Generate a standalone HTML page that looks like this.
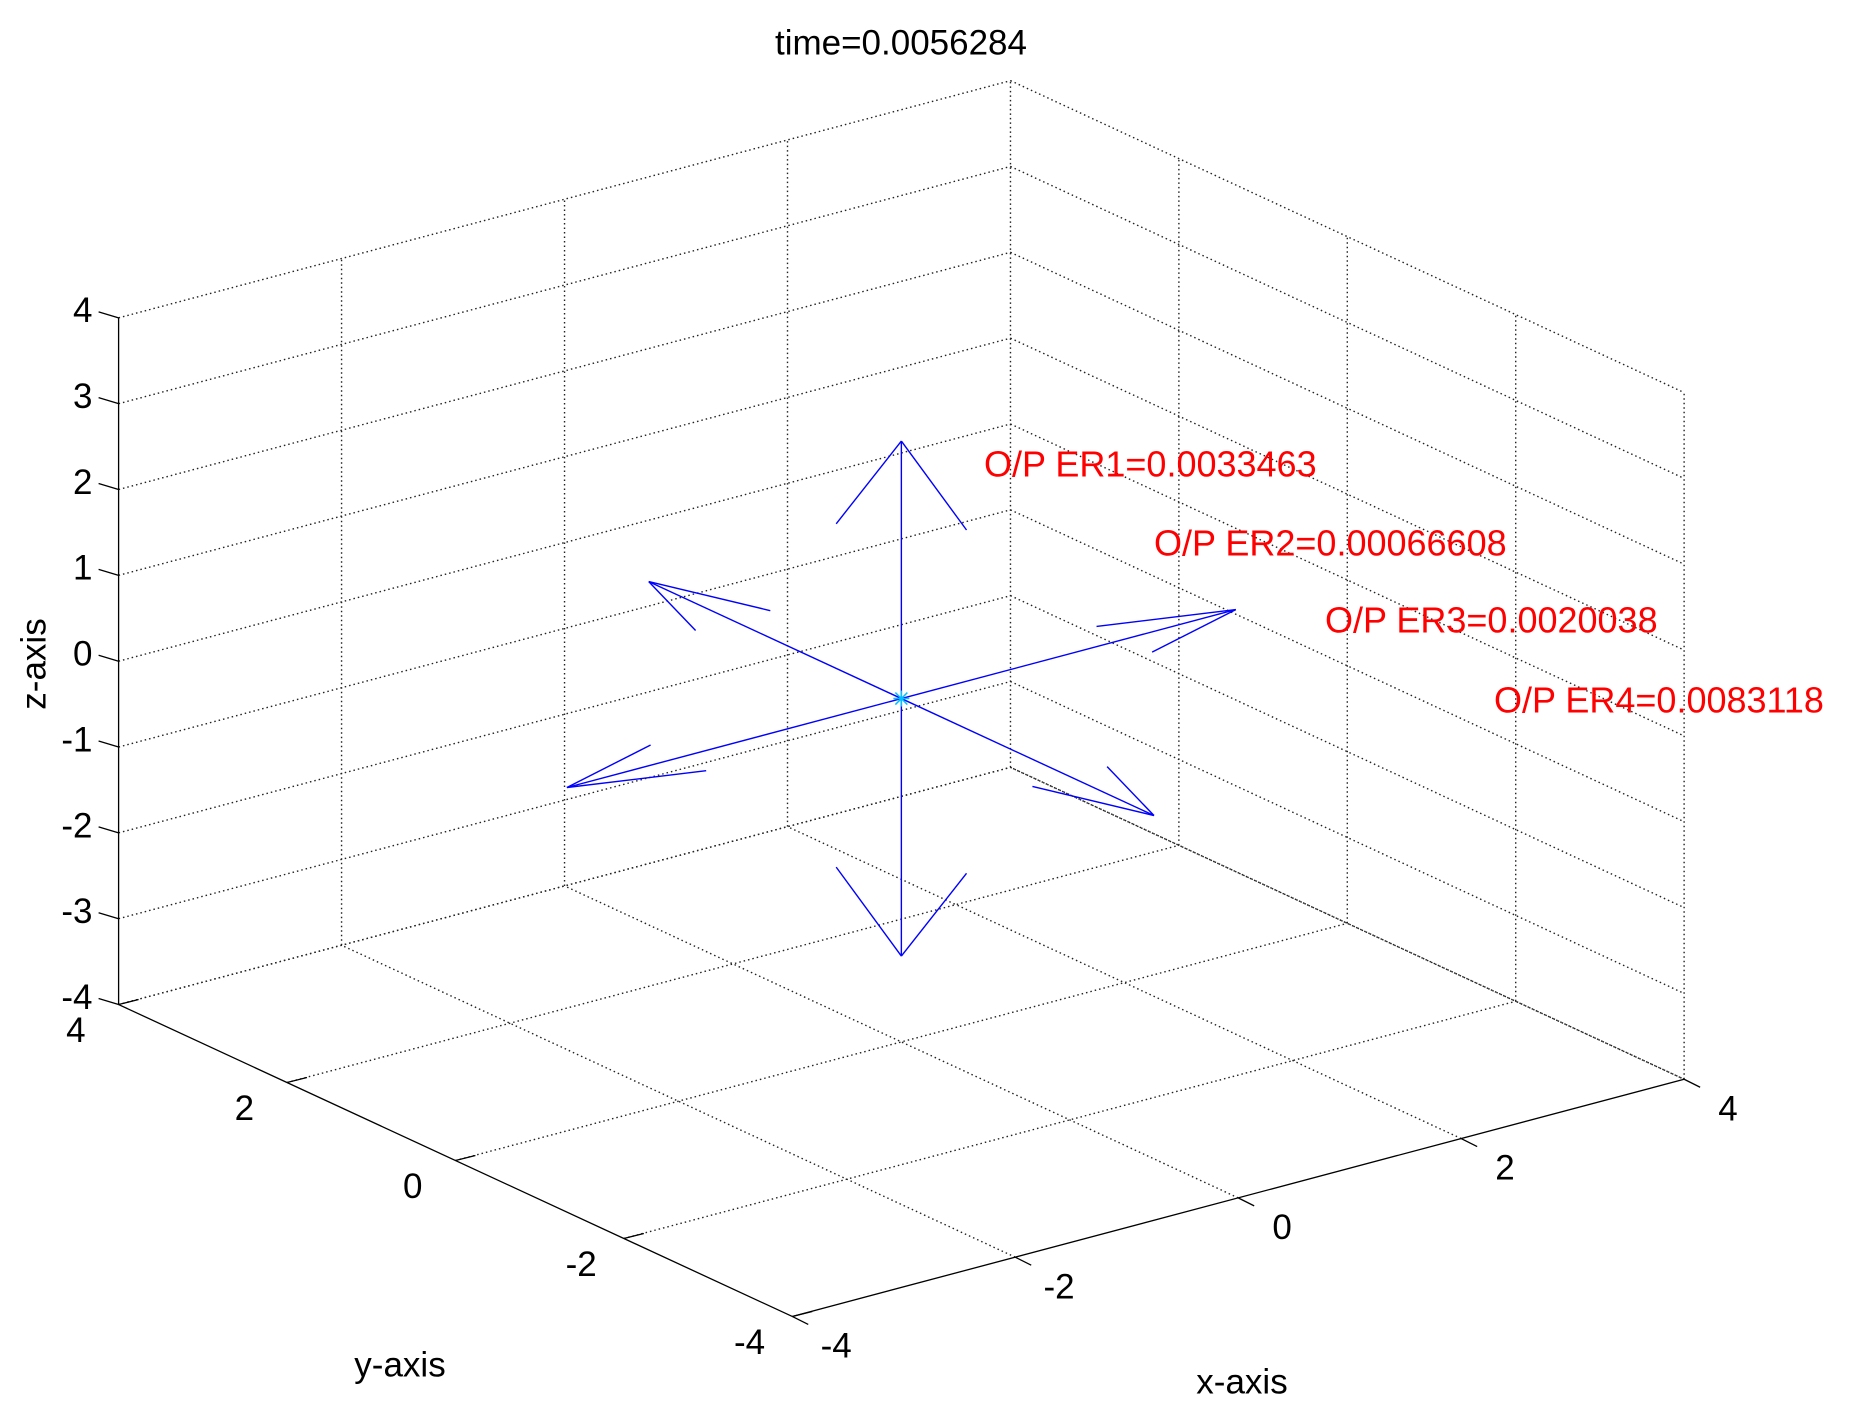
<!DOCTYPE html>
<html><head><meta charset="utf-8"><style>
body{margin:0;background:#fff;}
svg text{font-family:"Liberation Sans",Arial,sans-serif;}
</style></head><body>
<svg width="1850" height="1409" viewBox="0 0 1850 1409" xmlns="http://www.w3.org/2000/svg">
<rect width="1850" height="1409" fill="#fff"/>
<g id="grid"></g>
<g id="axes"></g>
<g id="arrows"></g>
<g id="labels"></g>
</svg>
<script>
const zTicks=[-4,-3,-2,-1,0,1,2,3,4];
const xyTicks=[-4,-2,0,2,4];
const arrowVecs=[[0,0,3],[0,0,-3],[3,0,0],[-3,0,0],[0,3,0],[0,-3,0]];
const arrowPerp=[[0.333,-0.333,0],[0.333,-0.333,0],[0,0.33,0],[0,0.33,0],[0.335,0,0],[0.335,0,0]];
const errLabels=["O/P ER1=0.0033463","O/P ER2=0.00066608","O/P ER3=0.0020038","O/P ER4=0.0083118"];
const titleText="time=0.0056284";

const S=1.186;
function P(x,y,z){return [S*(760+94*x-71*y), S*(589-25*x-32.875*y-72.375*z)];}
const NS="http://www.w3.org/2000/svg";
function line(g,a,b,opt){const l=document.createElementNS(NS,'line');
 l.setAttribute('x1',a[0]);l.setAttribute('y1',a[1]);l.setAttribute('x2',b[0]);l.setAttribute('y2',b[1]);
 l.setAttribute('stroke',opt.c||'#000');l.setAttribute('stroke-width',opt.w||1.3);
 if(opt.d)l.setAttribute('stroke-dasharray',opt.d);
 
 
 g.appendChild(l);return l;}
function text(g,s,x,y,opt){const t=document.createElementNS(NS,'text');
 t.setAttribute('x',x);t.setAttribute('y',y);t.setAttribute('font-size',opt.fs||35);
 t.setAttribute('fill',opt.c||'#000');t.setAttribute('text-anchor',opt.a||'middle');
 t.setAttribute('dominant-baseline','central');
 if(opt.r)t.setAttribute('transform',opt.r);
 t.textContent=s;
 
 
 g.appendChild(t);}
const grid=document.getElementById('grid'),axes=document.getElementById('axes'),arr=document.getElementById('arrows'),lab=document.getElementById('labels');
const dot={d:'1.5 3',c:'#222',w:1.4};
zTicks.forEach(z=>{
 line(grid,P(-4,4,z),P(4,4,z),Object.assign({n:'gridline-z-back'},dot));
 line(grid,P(4,4,z),P(4,-4,z),Object.assign({n:'gridline-z-right'},dot));
});
xyTicks.forEach(v=>{
 if(v>-4) line(grid,P(v,4,-4),P(v,4,4),Object.assign({n:'gridline-x-back'},dot));
 if(v<4) line(grid,P(4,v,-4),P(4,v,4),Object.assign({n:'gridline-y-right'},dot));
 if(v>-4) line(grid,P(v,-4,-4),P(v,4,-4),Object.assign({n:'gridline-x-floor'},dot));
 if(v>-4) line(grid,P(-4,v,-4),P(4,v,-4),Object.assign({n:'gridline-y-floor'},dot));
});
line(axes,P(-4,4,-4),P(-4,4,4),{n:'z-axis-line'});
line(axes,P(-4,4,-4),P(-4,-4,-4),{n:'y-axis-line'});
line(axes,P(-4,-4,-4),P(4,-4,-4),{n:'x-axis-line'});
zTicks.forEach(z=>{const p=P(-4,4,z);
 line(axes,p,[p[0]-20,p[1]-6],{n:'z-tick'});
 text(lab,String(z),p[0]-22*S,p[1]-6*S,{a:'end',n:'z-tick-label'});});
xyTicks.forEach(v=>{const p=P(-4,v,-4);
 line(axes,p,[p[0]+20,p[1]-5],{n:'y-tick'});
 text(lab,String(v),p[0]-36*S,p[1]+22*S,{n:'y-tick-label'});
 const q=P(v,-4,-4);
 line(axes,q,[q[0]+16,q[1]+8],{n:'x-tick'});
 text(lab,String(v),q[0]+37*S,q[1]+25*S,{n:'x-tick-label'});});
const o=P(0,0,0);
arrowVecs.forEach((v,i)=>{const h=P(v[0],v[1],v[2]);
 line(arr,o,h,{c:'#0000ff',w:1.4,n:'arrow-shaft'});
 const pp=arrowPerp[i];
 [1,-1].forEach(s=>{const b=P(v[0]*2/3+s*pp[0],v[1]*2/3+s*pp[1],v[2]*2/3+s*pp[2]);
  line(arr,h,b,{c:'#0000ff',w:1.4,n:'arrow-barb'});});});
[[8,0],[0,8],[6,6],[6,-6]].forEach(d=>line(arr,[o[0]-d[0],o[1]-d[1]],[o[0]+d[0],o[1]+d[1]],{c:'#00c0ff',w:1.5,n:'center-marker'}));
text(lab,titleText,901,43,{n:'chart-title'});
const errPos=[[984,464],[1154,543],[1325,620],[1494,700]];
errLabels.forEach((s,i)=>text(lab,s,errPos[i][0],errPos[i][1],{a:'start',c:'#ff0000',fs:36,n:'error-label'}));
text(lab,'z-axis',34,664,{r:'rotate(-90 34 664)',n:'z-axis-title'});
text(lab,'y-axis',400,1365,{n:'y-axis-title'});
text(lab,'x-axis',1242,1382,{n:'x-axis-title'});
</script>
</body></html>
